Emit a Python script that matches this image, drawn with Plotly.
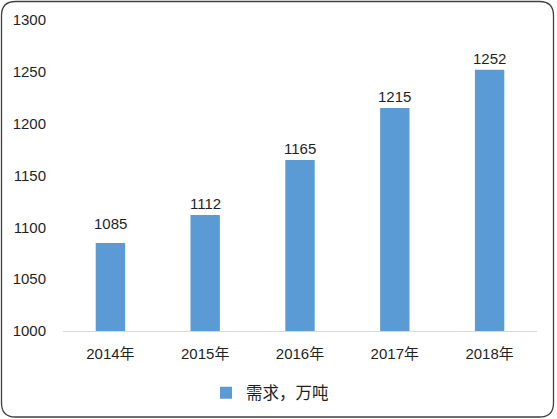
import plotly.graph_objects as go

categories = ["2014年", "2015年", "2016年", "2017年", "2018年"]
values = [1085, 1112, 1165, 1215, 1252]
series_name = "需求，万吨"
y_ticks = [1000, 1050, 1100, 1150, 1200, 1250, 1300]

W, H = 557, 419
FONT = "Liberation Sans, Noto Sans CJK SC, sans-serif"
TXT = "#1f1f1f"

fig = go.Figure()
fig.add_trace(go.Bar(
    x=categories, y=values, name=series_name,
    marker=dict(color="#5B9BD5", line=dict(width=0)),
    cliponaxis=False,
))

# label offsets above bar tops (the first label sits a little higher in the original)
label_shift = [9, 1, 1, 1, 1]
for c, v, s in zip(categories, values, label_shift):
    fig.add_annotation(x=c, y=v, xref="x", yref="y", text=str(v), showarrow=False,
                       yanchor="bottom", yshift=s, font=dict(size=15, color=TXT, family=FONT))

def px(x): return x / W
def py(y): return 1 - y / H

# rounded border path in paper coords
x0, x1, y0, y1, r = 1.5, 553.5, 1.5, 417.0, 14
pts = [
    ("M", x0 + r, y0), ("L", x1 - r, y0), ("Q", x1, y0, x1, y0 + r),
    ("L", x1, y1 - r), ("Q", x1, y1, x1 - r, y1), ("L", x0 + r, y1),
    ("Q", x0, y1, x0, y1 - r), ("L", x0, y0 + r), ("Q", x0, y0, x0 + r, y0),
]
path = ""
for p in pts:
    cmd = p[0]
    coords = p[1:]
    s = " ".join(f"{px(coords[i]):.5f},{py(coords[i+1]):.5f}" for i in range(0, len(coords), 2))
    path += f"{cmd} {s} "
path += "Z"

fig.update_layout(
    width=W, height=H,
    margin=dict(l=0, r=0, t=0, b=0),
    paper_bgcolor="white", plot_bgcolor="white",
    font=dict(family=FONT, size=15, color=TXT),
    bargap=0.69,
    showlegend=True,
    legend=dict(orientation="h", x=px(270), xanchor="center", y=py(393), yanchor="middle",
                font=dict(size=16.5, color=TXT), itemwidth=30),
    shapes=[dict(type="path", xref="paper", yref="paper", path=path,
                 line=dict(color="#404040", width=1.3), fillcolor="rgba(0,0,0,0)")],
    xaxis=dict(domain=[px(63), px(537)], automargin=False, showgrid=False,
               showline=True, linecolor="#D9D9D9", linewidth=1.3,
               ticks="", tickfont=dict(size=15, color=TXT), ticklabelstandoff=9),
    yaxis=dict(domain=[py(331), py(20)], range=[1000, 1300], tickvals=y_ticks,
               automargin=False, showgrid=False, showline=False, zeroline=False,
               ticks="", tickfont=dict(size=15, color=TXT), ticklabelstandoff=16),
)

fig.write_html("out.html", config={"displayModeBar": False},
               post_script="document.body.style.margin='0';document.body.style.overflow='hidden';")
